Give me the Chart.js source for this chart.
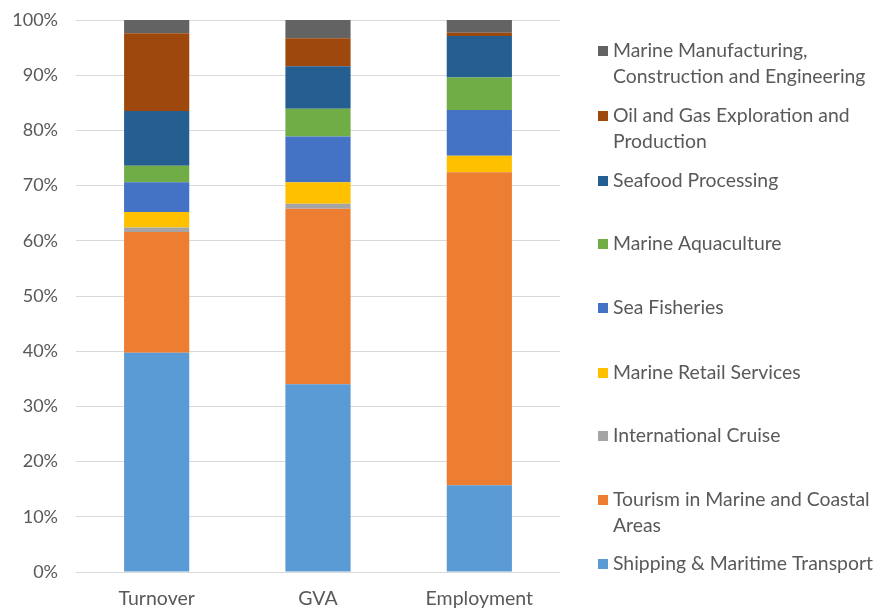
<!DOCTYPE html>
<html><head><meta charset="utf-8">
<script src="https://cdn.jsdelivr.net/npm/chart.js@4"></script>
<style>html,body{margin:0;padding:0;background:#fff}#wrap{width:877px;height:609px}</style>
</head><body><div id="wrap"><canvas id="c" width="877" height="609"></canvas></div>
<script>
const categories = ["Turnover", "GVA", "Employment"];
const shipping    = [39.7, 34.0, 15.7];
const tourism     = [21.9, 31.8, 56.7];
const cruise      = [0.8, 0.9, 0.0];
const retail      = [2.8, 3.9, 3.0];
const fisheries   = [5.4, 8.3, 8.3];
const aquaculture = [3.0, 5.0, 5.9];
const seafood     = [9.9, 7.7, 7.5];
const oilGas      = [14.1, 5.1, 0.6];
const manufacturing = [2.4, 3.3, 2.3];
const yTicks = [0,10,20,30,40,50,60,70,80,90,100];

const series = [
  {label:["Shipping & Maritime Transport"], data:shipping, color:"#5B9BD5"},
  {label:["Tourism in Marine and Coastal","Areas"], data:tourism, color:"#ED7D31"},
  {label:["International Cruise"], data:cruise, color:"#A5A5A5"},
  {label:["Marine Retail Services"], data:retail, color:"#FFC000"},
  {label:["Sea Fisheries"], data:fisheries, color:"#4472C4"},
  {label:["Marine Aquaculture"], data:aquaculture, color:"#70AD47"},
  {label:["Seafood Processing"], data:seafood, color:"#255E91"},
  {label:["Oil and Gas Exploration and","Production"], data:oilGas, color:"#9E480E"},
  {label:["Marine Manufacturing,","Construction and Engineering"], data:manufacturing, color:"#636363"}
];

const FONT = "Lato, 'Open Sans', sans-serif";
const TEXT = "#595959";

// legend first-line centres (top to bottom), layout only
const legendY = [51, 116, 181, 244, 308, 373, 436, 500, 564];
const legendPlugin = {
  id:'customLegend',
  afterDraw(chart){
    const ctx = chart.ctx;
    ctx.save();
    ctx.font = "19.4px " + FONT;
    ctx.textBaseline = "middle";
    ctx.textAlign = "left";
    const ds = chart.data.datasets.slice().reverse();
    const x0 = chart.chartArea.right + 38;
    ds.forEach((d,i)=>{
      const y = legendY[i];
      ctx.fillStyle = d.backgroundColor;
      ctx.fillRect(x0, y-5, 10, 10);
      ctx.fillStyle = TEXT;
      d.labelLines.forEach((t,j)=> ctx.fillText(t, x0+15, y + j*26));
    });
    ctx.restore();
  }
};

new Chart(document.getElementById('c'), {
  type:'bar',
  data:{
    labels:categories,
    datasets: series.map(s=>({label:s.label.join(' '), labelLines:s.label, data:s.data, backgroundColor:s.color, borderWidth:0, categoryPercentage:1.0, barPercentage:0.404}))
  },
  options:{
    responsive:false, animation:false,
    layout:{padding:{left:0, right:317, top:20, bottom:0}},
    plugins:{legend:{display:false}, tooltip:{enabled:false}},
    scales:{
      x:{stacked:true, grid:{display:false}, border:{display:false},
         ticks:{color:TEXT, font:{family:FONT, size:19.5}, padding:7},
         afterFit(s){ s.height = 37; }},
      y:{stacked:true, min:0, max:100,
         afterBuildTicks(s){ s.ticks = yTicks.map(v=>({value:v})); },
         ticks:{color:TEXT, font:{family:FONT, size:18}, padding:18, callback:v=>v+"%"},
         grid:{color:"#D9D9D9", lineWidth:1, drawTicks:false},
         border:{display:false},
         afterFit(s){ s.width = 76; s.paddingTop = 0; s.paddingBottom = 0; }}
    }
  },
  plugins:[legendPlugin]
});
</script></body></html>
